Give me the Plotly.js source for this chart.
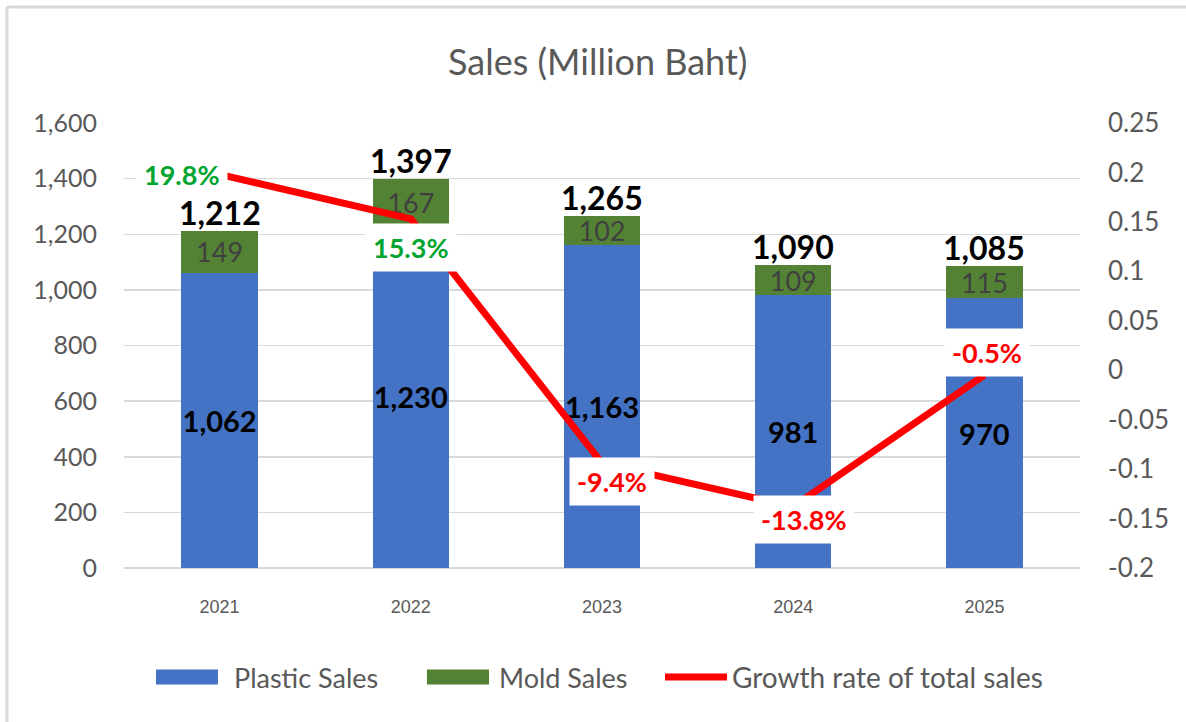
<!DOCTYPE html>
<html>
<head>
<meta charset="utf-8">
<script src="https://cdn.plot.ly/plotly-3.0.1.min.js"></script>
<style>
html,body{margin:0;padding:0;background:#fff;}
#chart{width:1186px;height:722px;}
</style>
</head>
<body>
<div id="chart"></div>
<script>
// ---- data ----
const years = ["2021", "2022", "2023", "2024", "2025"];
const plasticSales = [1062, 1230, 1163, 981, 970];
const moldSales = [149, 167, 102, 109, 115];
const totalSales = [1212, 1397, 1265, 1090, 1085];
const growthRate = [0.198, 0.153, -0.094, -0.138, -0.005];
const growthLabels = ["19.8%", "15.3%", "-9.4%", "-13.8%", "-0.5%"];
const rightTickVals = [-0.2, -0.15, -0.1, -0.05, 0, 0.05, 0.1, 0.15, 0.2, 0.25];
const rightTickText = ["-0.2", "-0.15", "-0.1", "-0.05", "0", "0.05", "0.1", "0.15", "0.2", "0.25"];
const seriesNames = ["Plastic Sales", "Mold Sales", "Growth rate of total sales"];

// ---- styling ----
const FONT = "Lato, 'Open Sans', sans-serif";
const GRAY = "#595959";
const BLUE = "#4472C4", GREEN = "#548235", RED = "#FF0000";
const growthOffsets = [[-38, 0], [0, -29], [10, -18], [11, -13], [3, 23]];

const fmt = v => v.toLocaleString("en-US");

const traces = [
  {
    type: "bar", name: seriesNames[0], x: years, y: plasticSales,
    marker: {color: BLUE},
    text: plasticSales.map(fmt), textposition: "inside", insidetextanchor: "middle",
    textangle: 0, constraintext: "none",
    textfont: {family: FONT, size: 29, color: "#000000", weight: "bold"},
    hoverinfo: "skip", showlegend: false
  },
  {
    type: "bar", name: seriesNames[1], x: years, y: moldSales,
    marker: {color: GREEN},
    text: moldSales.map(fmt), textposition: "inside", insidetextanchor: "middle",
    textangle: 0, constraintext: "none",
    textfont: {family: FONT, size: 27, color: "#404040"},
    hoverinfo: "skip", showlegend: false
  },
  {
    type: "scatter", mode: "lines", name: seriesNames[2],
    x: years, y: growthRate, yaxis: "y2",
    line: {color: RED, width: 7},
    hoverinfo: "skip", showlegend: false
  }
];

const annotations = [];
years.forEach((yr, i) => {
  annotations.push({
    x: i, y: totalSales[i], xref: "x", yref: "y",
    text: "<b>" + fmt(totalSales[i]) + "</b>",
    showarrow: false, yanchor: "bottom", yshift: -2, borderpad: 0,
    font: {family: FONT, size: 32, color: "#000000"}
  });
  annotations.push({
    x: i, y: growthRate[i], xref: "x", yref: "y2",
    text: "<b>" + growthLabels[i] + "</b>",
    showarrow: false, xanchor: "center", yanchor: "middle",
    xshift: growthOffsets[i][0], yshift: growthOffsets[i][1],
    bgcolor: "#FFFFFF", borderpad: 7,
    font: {family: FONT, size: 27, color: growthRate[i] >= 0 ? "#00A530" : RED}
  });
});

// ---- custom legend (large swatches like the reference) ----
const legendY0 = -0.228, legendY1 = -0.262, legendYMid = -0.245;
const legendItems = [
  {kind: "rect", color: BLUE, x0: 0.0335, x1: 0.0983, tx: 0.113, size: 27},
  {kind: "rect", color: GREEN, x0: 0.3169, x1: 0.3818, tx: 0.390, size: 27},
  {kind: "line", color: RED, x0: 0.5659, x1: 0.6308, tx: 0.634, size: 28}
];
const shapes = [
  {type: "line", xref: "paper", yref: "paper", x0: -0.1224, x1: 1.12, y0: 1.2607, y1: 1.2607,
   line: {color: "#D9D9D9", width: 3}},
  {type: "line", xref: "paper", yref: "paper", x0: -0.1224, x1: -0.1224, y0: 1.2607, y1: -0.36,
   line: {color: "#D9D9D9", width: 3}}
];
legendItems.forEach((it, i) => {
  if (it.kind === "rect") {
    shapes.push({type: "rect", xref: "paper", yref: "paper", x0: it.x0, x1: it.x1,
      y0: legendY0, y1: legendY1, fillcolor: it.color, line: {width: 0}});
  } else {
    shapes.push({type: "line", xref: "paper", yref: "paper", x0: it.x0, x1: it.x1,
      y0: legendYMid, y1: legendYMid, line: {color: it.color, width: 7}});
  }
  annotations.push({
    x: it.tx, y: legendYMid, xref: "paper", yref: "paper",
    xanchor: "left", yanchor: "middle", showarrow: false,
    text: seriesNames[i], font: {family: FONT, size: it.size, color: GRAY}
  });
});

const layout = {
  width: 1186, height: 722,
  paper_bgcolor: "#FFFFFF", plot_bgcolor: "#FFFFFF",
  margin: {l: 124, r: 106, t: 123, b: 154},
  title: {
    text: "Sales (Million Baht)",
    font: {family: FONT, size: 36, color: GRAY},
    x: 0.504, xref: "container", y: 0.914, yref: "container", yanchor: "middle"
  },
  barmode: "stack", bargap: 0.6,
  showlegend: false,
  xaxis: {
    type: "category", categoryorder: "array", categoryarray: years,
    range: [-0.5, 4.5], autorange: false,
    tickfont: {family: "'Liberation Sans', Arial, sans-serif", size: 18, color: GRAY},
    ticks: "", ticklabelstandoff: 26,
    showgrid: false, showline: false, zeroline: false
  },
  yaxis: {
    range: [0, 1600], autorange: false, dtick: 200, tick0: 0, tickformat: ",",
    tickfont: {family: FONT, size: 25, color: GRAY},
    showgrid: true, gridcolor: "#D9D9D9", gridwidth: 1.5,
    zeroline: true, zerolinecolor: "#D9D9D9", zerolinewidth: 2,
    ticks: "", ticklabelstandoff: 26, showline: false
  },
  yaxis2: {
    overlaying: "y", side: "right",
    range: [-0.2, 0.25], autorange: false, tickvals: rightTickVals, ticktext: rightTickText,
    tickfont: {family: FONT, size: 26, color: GRAY},
    showgrid: false, zeroline: false, showline: false,
    ticks: "", ticklabelstandoff: 27
  },
  annotations: annotations,
  shapes: shapes
};

Plotly.newPlot("chart", traces, layout, {staticPlot: true, displayModeBar: false});
</script>
</body>
</html>
